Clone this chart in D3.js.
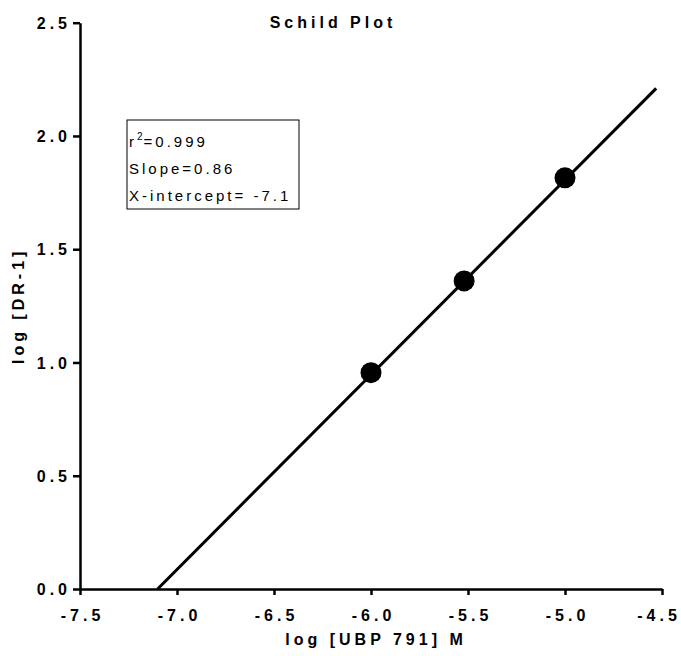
<!DOCTYPE html>
<html>
<head>
<meta charset="utf-8">
<script src="https://cdn.jsdelivr.net/npm/d3@7"></script>
<style>
  html, body { margin: 0; padding: 0; background: #fff; }
  svg { display: block; font-family: "Liberation Sans", Arial, sans-serif; }
</style>
</head>
<body>
<script>
// ---- data ----
const concLog = [-6.0, -5.52, -5.0];          // log [UBP 791] M
const logDR1 = [0.955, 1.36, 1.815];          // log [DR-1]
const fitX = [-7.1, -4.53];                   // regression line ends
const fitY = [0.0, 2.21];
const xTicks = [-7.5, -7.0, -6.5, -6.0, -5.5, -5.0, -4.5];
const yTicks = [0.0, 0.5, 1.0, 1.5, 2.0, 2.5];
const statLines = ["0.999", "Slope=0.86", "X-intercept= -7.1"];

const W = 681, H = 656;
const mLeft = 80, mRight = 662, mTop = 22.7, mBottom = 589;

const svg = d3.select("body").append("svg").attr("width", W).attr("height", H);

const x = d3.scaleLinear().domain([-7.5, -4.5]).range([mLeft, mRight]);
const y = d3.scaleLinear().domain([0, 2.5]).range([mBottom, mTop]);

const LS = 4;
const fmt = d => d.toFixed(1);

// x axis
const gx = svg.append("g").attr("transform", `translate(0,${mBottom})`)
  .call(d3.axisBottom(x).tickValues(xTicks).tickFormat(fmt).tickSize(6).tickSizeOuter(0));
gx.select(".domain").attr("stroke", "#000").attr("stroke-width", 2.5);
gx.selectAll(".tick line").attr("stroke", "#000").attr("stroke-width", 2.5);
gx.selectAll(".tick text")
  .attr("y", 32).attr("dy", 0)
  .attr("dx", (d, i) => i === xTicks.length - 1 ? -3.5 : LS / 2)
  .attr("fill", "#000")
  .style("font-family", "'Liberation Sans', Arial, sans-serif")
  .style("font-size", "16px").style("font-weight", "bold")
  .style("letter-spacing", LS + "px");

// y axis
const gy = svg.append("g").attr("transform", `translate(${mLeft},0)`)
  .call(d3.axisLeft(y).tickValues(yTicks).tickFormat(fmt).tickSize(7).tickSizeOuter(0));
gy.select(".domain").attr("stroke", "#000").attr("stroke-width", 2.5);
gy.selectAll(".tick line").attr("stroke", "#000").attr("stroke-width", 2.5);
gy.selectAll(".tick text")
  .attr("x", -13 + LS).attr("dy", "0.36em")
  .attr("fill", "#000")
  .style("font-family", "'Liberation Sans', Arial, sans-serif")
  .style("font-size", "16px").style("font-weight", "bold")
  .style("letter-spacing", LS + "px");

// regression line
const line = d3.line().x(d => x(d[0])).y(d => y(d[1]));
svg.append("path")
  .datum(fitX.map((v, i) => [v, fitY[i]]))
  .attr("d", line)
  .attr("fill", "none").attr("stroke", "#000").attr("stroke-width", 3);

// points
svg.selectAll("circle.pt")
  .data(concLog.map((v, i) => [v, logDR1[i]]))
  .join("circle").attr("class", "pt")
  .attr("cx", d => x(d[0])).attr("cy", d => y(d[1]))
  .attr("r", 10.5).attr("fill", "#000");

// title
svg.append("text")
  .attr("x", 331 + LS / 2).attr("y", 28)
  .attr("text-anchor", "middle")
  .style("font-size", "16px").style("font-weight", "bold")
  .style("letter-spacing", LS + "px")
  .text("Schild Plot");

// x axis title
svg.append("text")
  .attr("x", (mLeft + mRight) / 2 + LS / 2 + 3).attr("y", 645)
  .attr("text-anchor", "middle")
  .style("font-size", "16px").style("font-weight", "bold")
  .style("letter-spacing", LS + "px")
  .text("log [UBP 791] M");

// y axis title
svg.append("text")
  .attr("transform", `translate(24,${(mTop + mBottom) / 2}) rotate(-90)`)
  .attr("text-anchor", "middle")
  .style("font-size", "16px").style("font-weight", "bold")
  .style("letter-spacing", LS + "px")
  .text("log [DR-1]");

// stats box
svg.append("rect")
  .attr("x", 127).attr("y", 120).attr("width", 172).attr("height", 89)
  .attr("fill", "#fff").attr("stroke", "#000").attr("stroke-width", 1);

const boxFont = (sel) => sel.style("font-size", "15px").style("letter-spacing", "3px").attr("fill", "#000");
const t1 = svg.append("text").attr("x", 129).attr("y", 147).call(boxFont);
t1.append("tspan").text("r");
t1.append("tspan").attr("dy", -7).style("font-size", "10px").style("letter-spacing", "1px").text("2");
t1.append("tspan").attr("dy", 7).text("=" + statLines[0]);
svg.append("text").attr("x", 129).attr("y", 174).call(boxFont).text(statLines[1]);
svg.append("text").attr("x", 129).attr("y", 201).call(boxFont).text(statLines[2]);
</script>
</body>
</html>
